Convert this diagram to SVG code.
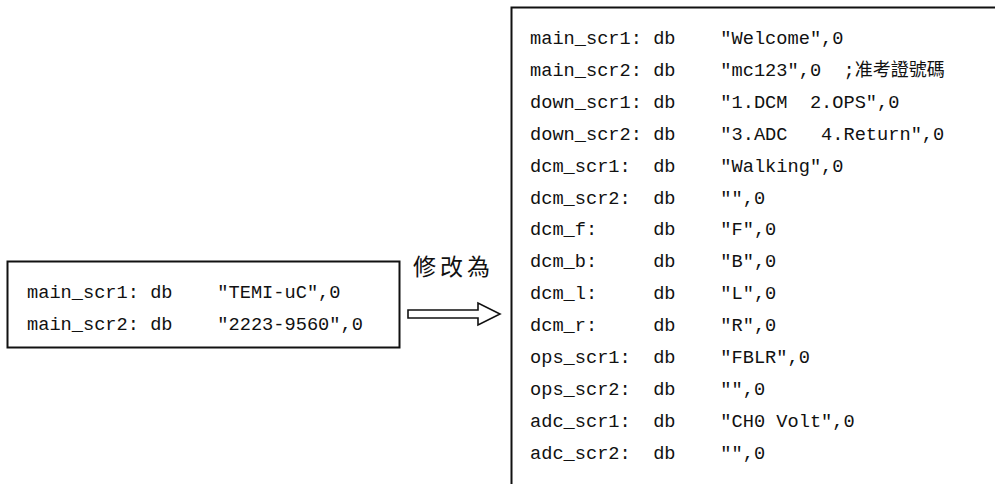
<svg xmlns="http://www.w3.org/2000/svg" width="995" height="484" viewBox="0 0 995 484">
<style>
.box{fill:#fff;stroke:#111;stroke-width:2}
.code{font-family:"Liberation Mono","Courier New","Noto Sans CJK TC",monospace;font-size:18.67px;fill:#111;white-space:pre}
.cjk{font-family:"Noto Sans CJK TC","Noto Sans CJK SC",sans-serif;font-size:18px;fill:#111}
.lbl{font-family:"Noto Sans CJK TC","Noto Sans CJK SC",sans-serif;font-size:23px;fill:#111;letter-spacing:4px}
.arrow{fill:#fff;stroke:#111;stroke-width:1.6}
</style>
<rect width="995" height="484" fill="#fff"/>
<g id="before">
<rect class="box" x="7.5" y="261.5" width="392" height="86"/>
<text class="code" x="27" y="297.5">main_scr1: db    "TEMI-uC",0</text>
<text class="code" x="27" y="329.5">main_scr2: db    "2223-9560",0</text>
</g>
<g id="after">
<rect class="box" x="511.5" y="7.5" width="500" height="500"/>
<text class="code" x="530" y="44">main_scr1: db    "Welcome",0</text>
<text class="code" x="530" y="76">main_scr2: db    "mc123",0  ;<tspan class="cjk">准考證號碼</tspan></text>
<text class="code" x="530" y="108">down_scr1: db    "1.DCM  2.OPS",0</text>
<text class="code" x="530" y="140">down_scr2: db    "3.ADC   4.Return",0</text>
<text class="code" x="530" y="172">dcm_scr1:  db    "Walking",0</text>
<text class="code" x="530" y="204">dcm_scr2:  db    "",0</text>
<text class="code" x="530" y="235">dcm_f:     db    "F",0</text>
<text class="code" x="530" y="267">dcm_b:     db    "B",0</text>
<text class="code" x="530" y="299">dcm_l:     db    "L",0</text>
<text class="code" x="530" y="331">dcm_r:     db    "R",0</text>
<text class="code" x="530" y="363">ops_scr1:  db    "FBLR",0</text>
<text class="code" x="530" y="395">ops_scr2:  db    "",0</text>
<text class="code" x="530" y="427">adc_scr1:  db    "CH0 Volt",0</text>
<text class="code" x="530" y="459">adc_scr2:  db    "",0</text>
</g>
<g id="connectors">
<path class="arrow" d="M408,310 H478 V303 L500,314 L478,325 V318 H408 Z"/>
<text class="lbl" x="413" y="275">修改為</text>
</g>
</svg>
